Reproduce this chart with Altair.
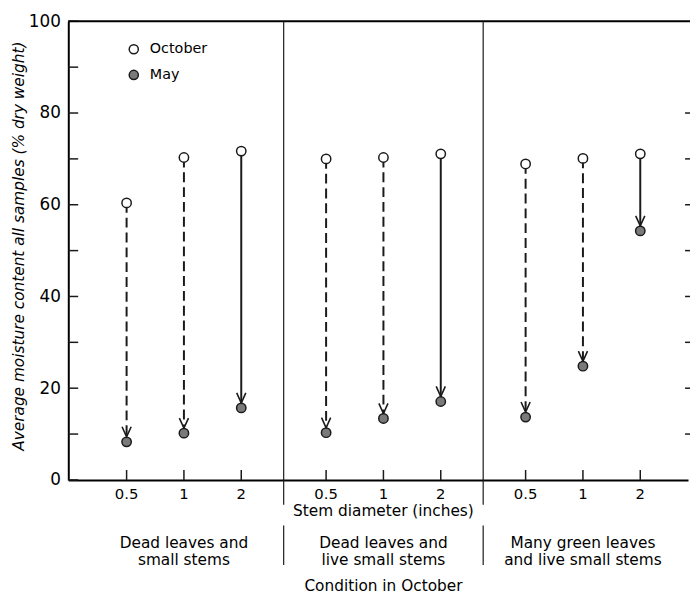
import altair as alt
import pandas as pd

# ---- data ----
diameters = ["0.5", "1", "2"]
conditions = [
    "Dead leaves and\nsmall stems",
    "Dead leaves and\nlive small stems",
    "Many green leaves\nand live small stems",
]
october = [[60.4, 70.3, 71.7], [70.0, 70.3, 71.1], [68.9, 70.1, 71.1]]
may = [[8.3, 10.2, 15.7], [10.3, 13.4, 17.1], [13.7, 24.8, 54.3]]
line_style = ["dashed", "dashed", "solid"]

y_major = [0, 20, 40, 60, 80, 100]
y_minor = [10, 30, 50, 70, 90]
right_ticks = [10, 20, 30, 40, 50, 60, 70, 80]

# ---- layout ----
PANEL_STEP = 3.48
W, H = 627, 464
FONT = "DejaVu Sans"
INK = "#1a1a1a"

pts, segs, dticks = [], [], []
for p in range(3):
    for d in range(3):
        pos = p * PANEL_STEP + d
        pts.append({"pos": pos, "value": october[p][d], "Month": "October"})
        pts.append({"pos": pos, "value": may[p][d], "Month": "May"})
        segs.append({"pos": pos, "oct": october[p][d], "may": may[p][d], "style": line_style[d]})
        dticks.append({"pos": pos, "label": diameters[d]})
pts = pd.DataFrame(pts)
segs = pd.DataFrame(segs)
dticks = pd.DataFrame(dticks)
dividers = pd.DataFrame({"pos": [(p * PANEL_STEP + 2 + (p + 1) * PANEL_STEP) / 2 for p in range(2)]})
cats = pd.DataFrame({"pos": [p * PANEL_STEP + 1 for p in range(3)], "label": conditions})
centre = pd.DataFrame({"pos": [PANEL_STEP + 1]})
ymaj = pd.DataFrame({"v": y_major + y_minor})
yright = pd.DataFrame({"v": right_ticks})
top = pd.DataFrame({"v": [100]})

xs = alt.Scale(domain=[-1.017, 9.793], nice=False, zero=False)
ys = alt.Scale(domain=[0, 100], nice=False)
xaxis = alt.Axis(labels=False, ticks=False, grid=False, title=None,
                 domainColor="black", domainWidth=2)
yaxis = alt.Axis(values=y_major, ticks=False, grid=False, labelFontSize=17,
                 labelFont=FONT, labelColor="black", labelPadding=8,
                 domainColor="black", domainWidth=2,
                 title="Average moisture content all samples (% dry weight)",
                 titleFont=FONT, titleFontSize=15.5, titleFontStyle="italic",
                 titleFontWeight="normal", titleColor="black", titlePadding=2,
                 titleY=227)


def X(f):
    return alt.X(f, type="quantitative", scale=xs, axis=xaxis)


def Y(f):
    return alt.Y(f, type="quantitative", scale=ys, axis=yaxis)


left_ticks = alt.Chart(ymaj).mark_rule(color=INK, strokeWidth=1.5).encode(
    y=Y("v"), x=alt.value(0), x2=alt.value(10))
right_t = alt.Chart(yright).mark_rule(color=INK, strokeWidth=1.5).encode(
    y=Y("v"), x=alt.value(624), x2=alt.value(629))
top_line = alt.Chart(top).mark_rule(color="black", strokeWidth=2).encode(
    y=Y("v"), x=alt.value(0), x2=alt.value(W + 5))
bottom_ticks = alt.Chart(dticks).mark_rule(color=INK, strokeWidth=1.5).encode(
    x=X("pos"), y=alt.value(H), y2=alt.value(H - 10))
div_up = alt.Chart(dividers).mark_rule(color=INK, strokeWidth=1.2).encode(
    x=X("pos"), y=alt.value(0), y2=alt.value(489))
div_low = alt.Chart(dividers).mark_rule(color=INK, strokeWidth=1.2).encode(
    x=X("pos"), y=alt.value(510), y2=alt.value(550))

stems = alt.Chart(segs).mark_rule(color=INK, strokeWidth=2).encode(
    x=X("pos"), y=Y("oct"), y2="may",
    strokeDash=alt.StrokeDash("style:N", scale=alt.Scale(
        domain=["dashed", "solid"], range=[[10, 5], [1, 0]]), legend=None))
heads = alt.Chart(segs).mark_point(
    shape="M-0.45,-1L0,0L0.45,-1", size=420, filled=False, strokeWidth=1.6,
    color=INK, opacity=1, yOffset=-5).encode(x=X("pos"), y=Y("may"))
dots = alt.Chart(pts).mark_point(
    filled=True, size=90, stroke=INK, strokeWidth=1.5, opacity=1, shape="circle").encode(
    x=X("pos"), y=Y("value"),
    fill=alt.Fill("Month:N", scale=alt.Scale(domain=["October", "May"],
                                             range=["white", "#7a7a7a"]),
                  legend=alt.Legend(title=None, orient="none", legendX=59, legendY=21,
                                    labelFont=FONT, labelFontSize=14.5, labelColor="black",
                                    symbolSize=85, symbolType="circle",
                                    symbolStrokeColor=INK, symbolStrokeWidth=1.5,
                                    labelOffset=9, rowPadding=10)))

dlabels = alt.Chart(dticks).mark_text(font=FONT, fontSize=15, color="black",
                                      baseline="alphabetic", align="center").encode(
    x=X("pos"), y=alt.value(483), text="label")
stem_title = alt.Chart(centre).mark_text(font=FONT, fontSize=15.5, color="black",
                                         baseline="alphabetic", align="center",
                                         text="Stem diameter (inches)").encode(
    x=X("pos"), y=alt.value(501))
cat_labels = alt.Chart(cats).mark_text(font=FONT, fontSize=15.5, color="black",
                                       baseline="alphabetic", align="center",
                                       lineBreak="\n", lineHeight=17).encode(
    x=X("pos"), y=alt.value(533), text="label")
cond_title = alt.Chart(centre).mark_text(font=FONT, fontSize=15.5, color="black",
                                         baseline="alphabetic", align="center",
                                         text="Condition in October").encode(
    x=X("pos"), y=alt.value(576))

chart = alt.layer(
    left_ticks, right_t, top_line, bottom_ticks, div_up, div_low,
    stems, heads, dots, dlabels, stem_title, cat_labels, cond_title,
).properties(
    width=W, height=H,
    autosize=alt.AutoSizeParams(type="none"),
    padding={"left": 61, "top": 10, "right": 2, "bottom": 115},
    background="white",
).configure_view(stroke=None)

chart.save("out.html", embed_options={"renderer": "svg", "actions": False})
